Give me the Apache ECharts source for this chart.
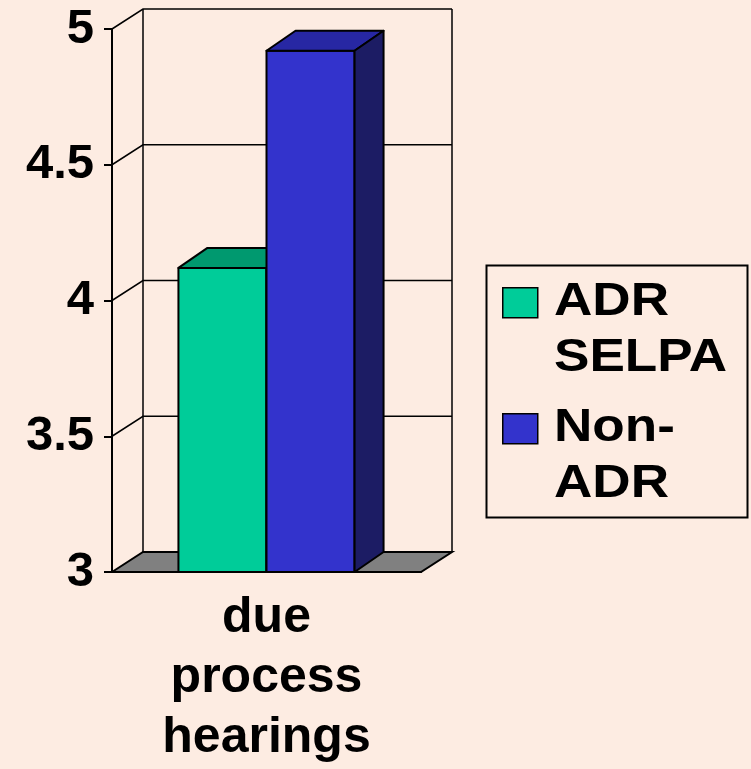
<!DOCTYPE html>
<html>
<head>
<meta charset="utf-8">
<script src="https://cdn.jsdelivr.net/npm/echarts@6/dist/echarts.min.js"></script>
<style>
  html, body { margin: 0; padding: 0; background: #fdece2; }
  #chart { width: 751px; height: 769px; }
</style>
</head>
<body>
<div id="chart"></div>
<script>
// values
const categories = ['due process hearings'];
const seriesNames = ['ADR SELPA', 'Non-ADR'];
const legendLabels = ['ADR\nSELPA', 'Non-\nADR'];
const adrValues = [4.12];
const nonAdrValues = [4.92];
const yTicks = [3, 3.5, 4, 4.5, 5];

const yMin = 3, yMax = 5;
const faceColors = ['#00cc99', '#3333cc'];
const topColors = ['#00996f', '#2727a3'];
const sideColors = ['#00664a', '#1c1c64'];
const wallDx = 31, wallDy = -20;
const barDx = 29, barDy = -20;
const font = '"Liberation Sans", Arial, sans-serif';

// floor, back wall and its gridlines
function renderFrame(params, api) {
    var band = api.size([1, 0])[0];
    var c = api.coord([0, yMin]);
    var x0 = c[0] - band / 2, x1 = c[0] + band / 2, yb = c[1];
    var yt = api.coord([0, yMax])[1];
    var line = { stroke: '#000', lineWidth: 1.5, fill: null };
    var kids = [];
    kids.push({
        type: 'polygon',
        shape: { points: [[x0, yb], [x0 + wallDx, yb + wallDy], [x1 + wallDx, yb + wallDy], [x1, yb]] },
        style: { fill: '#808080', stroke: '#000', lineWidth: 2 }
    });
    kids.push({ type: 'line', shape: { x1: x0 + wallDx, y1: yt + wallDy, x2: x0 + wallDx, y2: yb + wallDy }, style: line });
    kids.push({ type: 'line', shape: { x1: x1 + wallDx, y1: yt + wallDy, x2: x1 + wallDx, y2: yb + wallDy }, style: line });
    yTicks.forEach(function (v) {
        if (v === yMin) return;
        var y = api.coord([0, v])[1];
        kids.push({
            type: 'polyline',
            shape: { points: [[x0, y], [x0 + wallDx, y + wallDy], [x1 + wallDx, y + wallDy]] },
            style: line
        });
    });
    return { type: 'group', children: kids };
}

function makeBar(i) {
    return function (params, api) {
        var cat = api.value(0), val = api.value(1);
        var band = api.size([1, 0])[0];
        var w = band * 0.285;
        var base = api.coord([cat, yMin]);
        var top = api.coord([cat, val]);
        var x = base[0] - w * seriesNames.length / 2 + w * i;
        var yb = base[1], yt = top[1];
        var edge = { stroke: '#000', lineWidth: 2, lineJoin: 'round' };
        return {
            type: 'group',
            children: [
                { type: 'rect', shape: { x: x, y: yt, width: w, height: yb - yt },
                  style: Object.assign({ fill: faceColors[i] }, edge) },
                { type: 'polygon', shape: { points: [[x, yt], [x + barDx, yt + barDy], [x + w + barDx, yt + barDy], [x + w, yt]] },
                  style: Object.assign({ fill: topColors[i] }, edge) },
                { type: 'polygon', shape: { points: [[x + w, yt], [x + w + barDx, yt + barDy], [x + w + barDx, yb + barDy], [x + w, yb]] },
                  style: Object.assign({ fill: sideColors[i] }, edge) }
            ]
        };
    };
}

const chart = echarts.init(document.getElementById('chart'));

var legendEls = [{
    type: 'rect', left: 484, top: 263,
    shape: { width: 261, height: 252 },
    style: { fill: null, stroke: '#000', lineWidth: 2 }
}];
legendLabels.forEach(function (txt, i) {
    var yc = 302 + i * 126;
    legendEls.push({
        type: 'rect', left: 502, top: yc - 15,
        shape: { width: 35, height: 30 },
        style: { fill: faceColors[i], stroke: '#000', lineWidth: 1.5 }
    });
    legendEls.push({
        type: 'text', left: 554, top: yc - 28, scaleX: 1.13,
        style: { text: txt, fill: '#000', fontFamily: font, fontWeight: 'bold', fontSize: 47, lineHeight: 56 }
    });
});

chart.setOption({
    backgroundColor: '#fdece2',
    animation: false,
    grid: { left: 112, top: 29, width: 309, height: 543, containLabel: false, outerBoundsMode: 'none' },
    xAxis: {
        type: 'category',
        data: categories,
        axisLine: { lineStyle: { color: '#000', width: 2 } },
        axisTick: { length: 7, lineStyle: { color: '#000', width: 2 } },
        axisLabel: {
            margin: 16,
            color: '#000',
            fontFamily: font,
            fontWeight: 'bold',
            fontSize: 50,
            lineHeight: 60,
            formatter: function (v) { return v.split(' ').join('\n'); }
        },
        splitLine: { show: false }
    },
    yAxis: {
        type: 'value',
        min: yMin,
        max: yMax,
        interval: 0.5,
        axisLine: { show: true, lineStyle: { color: '#000', width: 2 } },
        axisTick: { show: true, length: 8, lineStyle: { color: '#000', width: 2 } },
        axisLabel: {
            margin: 18,
            color: '#000',
            fontFamily: font,
            fontWeight: 'bold',
            fontSize: 49
        },
        splitLine: { show: false }
    },
    graphic: legendEls,
    series: [
        {
            type: 'custom', name: 'frame', silent: true, clip: false, z: 1,
            renderItem: renderFrame,
            data: [[0, yMin]]
        },
        {
            type: 'custom', name: seriesNames[0], silent: true, clip: false, z: 2,
            renderItem: makeBar(0),
            encode: { x: 0, y: 1 },
            data: adrValues.map(function (v, k) { return [k, v]; })
        },
        {
            type: 'custom', name: seriesNames[1], silent: true, clip: false, z: 3,
            renderItem: makeBar(1),
            encode: { x: 0, y: 1 },
            data: nonAdrValues.map(function (v, k) { return [k, v]; })
        }
    ]
});
</script>
</body>
</html>
